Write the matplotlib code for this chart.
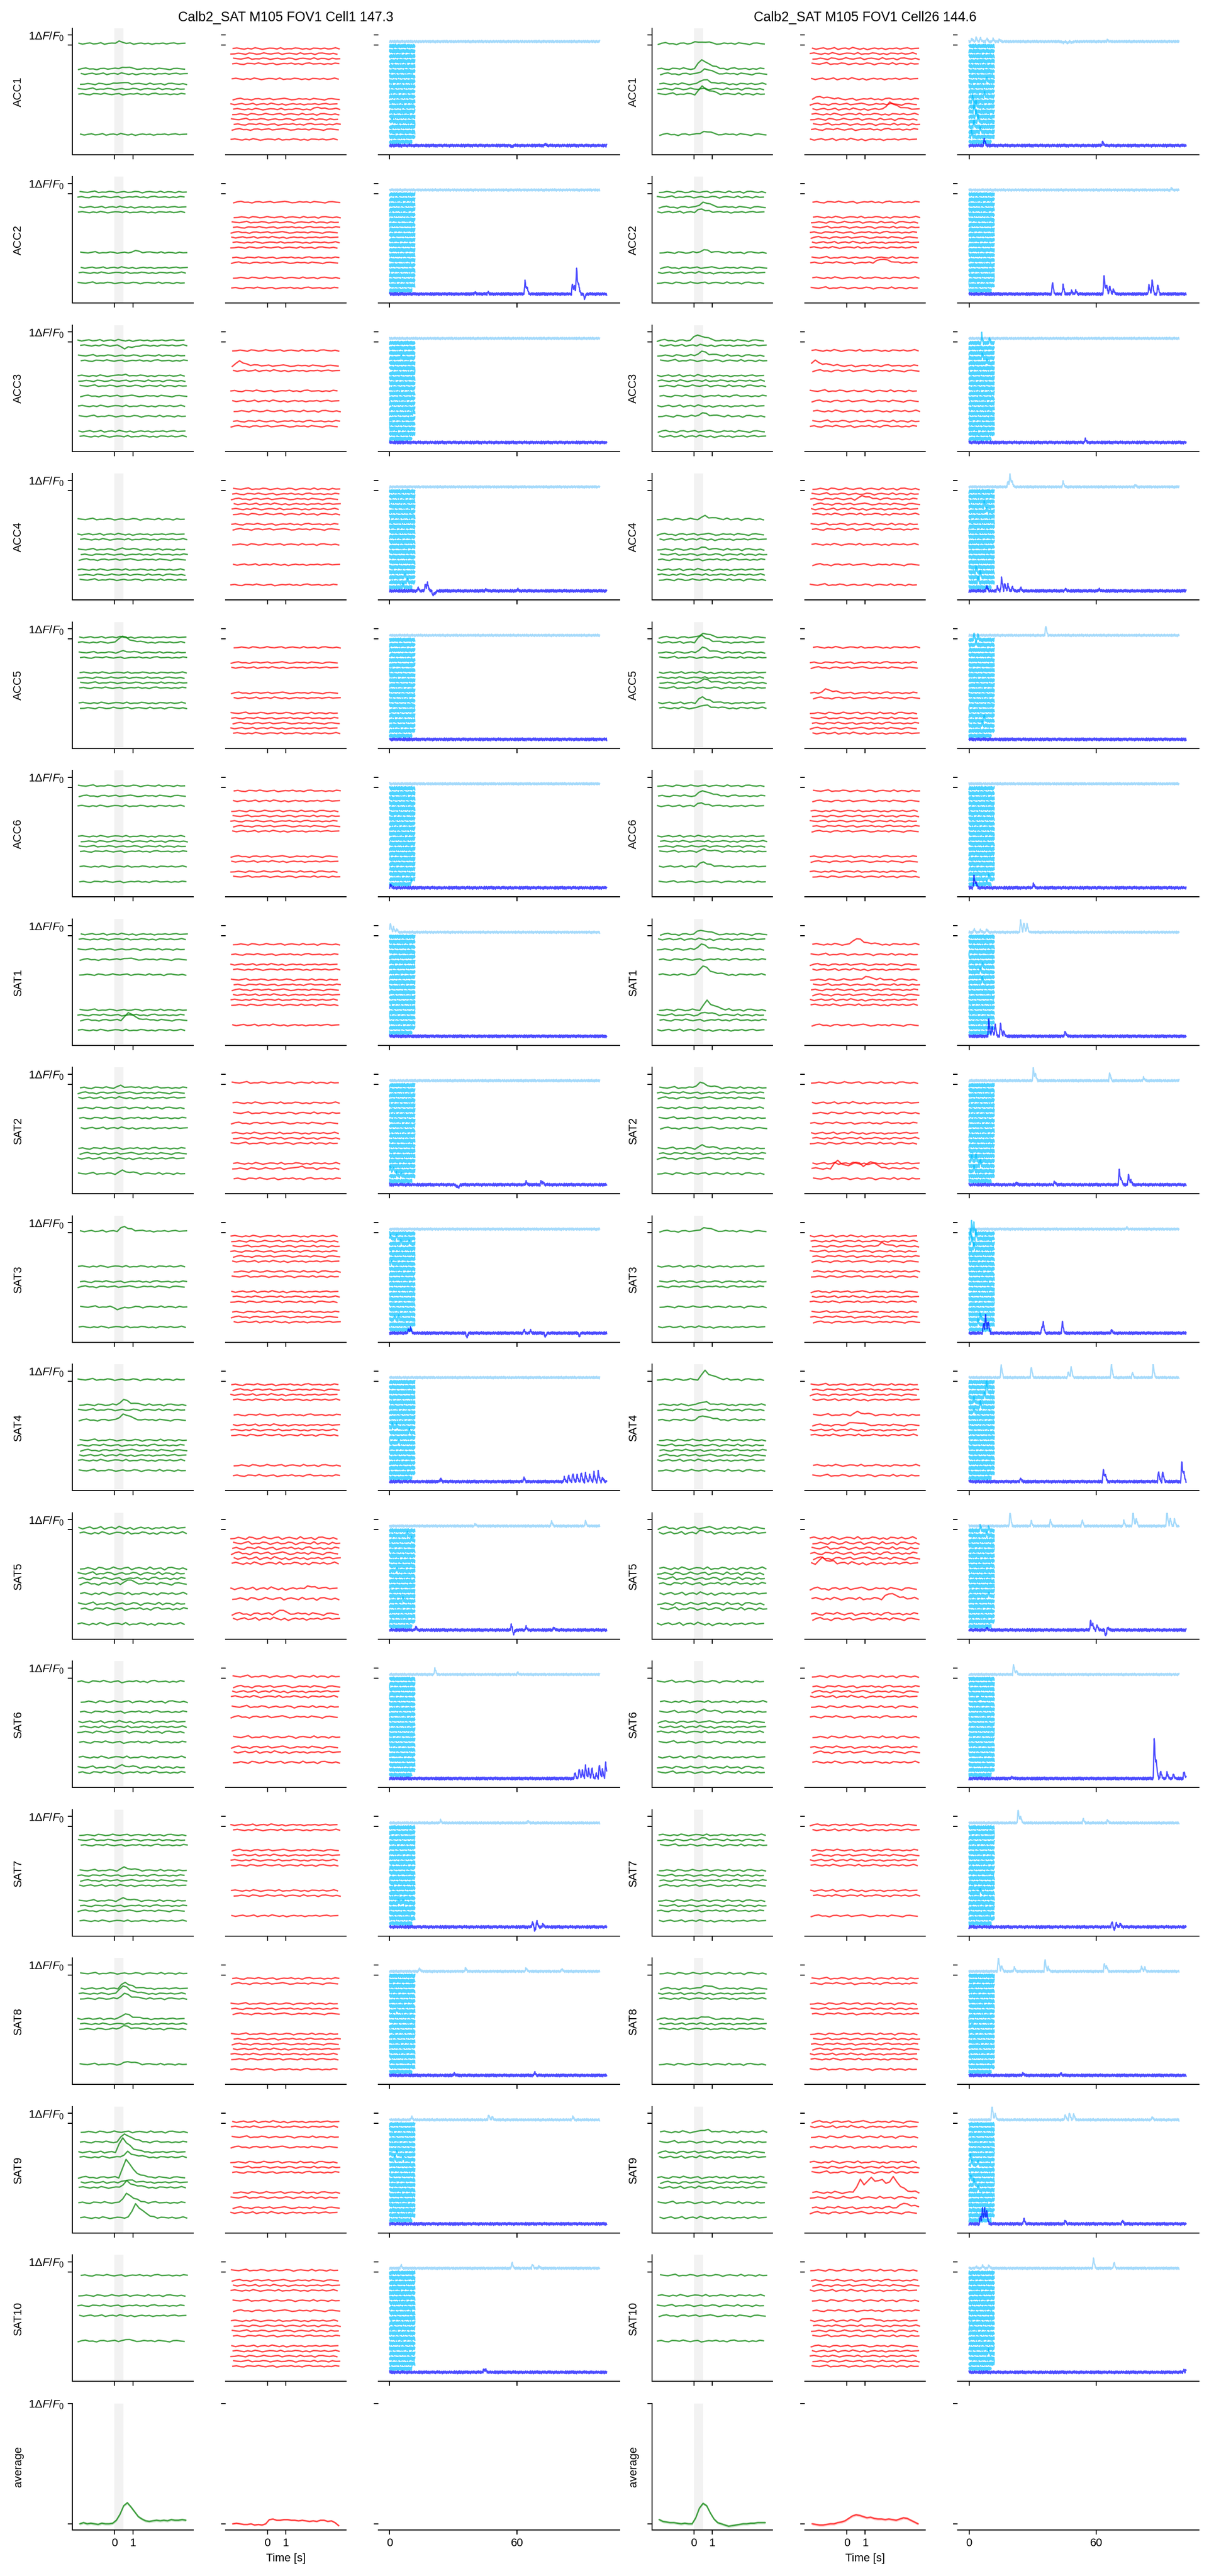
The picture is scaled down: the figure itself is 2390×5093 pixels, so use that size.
import numpy as np
import matplotlib.pyplot as plt

plt.rcParams['font.family'] = ['Liberation Sans', 'DejaVu Sans']
plt.rcParams['mathtext.fontset'] = 'custom'
plt.rcParams['mathtext.rm'] = 'Liberation Sans'
plt.rcParams['mathtext.it'] = 'Liberation Sans:italic'
plt.rcParams['font.size'] = 10

# ---------------- data ----------------
ROWS = ['ACC1', 'ACC2', 'ACC3', 'ACC4', 'ACC5', 'ACC6', 'SAT1', 'SAT2', 'SAT3',
        'SAT4', 'SAT5', 'SAT6', 'SAT7', 'SAT8', 'SAT9', 'SAT10', 'average']
TITLES = ['Calb2_SAT M105 FOV1 Cell1 147.3', 'Calb2_SAT M105 FOV1 Cell26 144.6']
N_TRIALS = 20

# trials drawn in green (all the others are red), same for both cells
GREEN_TRIALS = [
    [0, 5, 6, 8, 9, 10, 18],
    [0, 1, 3, 4, 12, 15, 16, 18],
    [0, 1, 3, 4, 7, 8, 9, 11, 13, 15, 18, 19],
    [6, 9, 10, 12, 13, 14, 16, 17, 18],
    [0, 1, 3, 4, 7, 8, 9, 10, 13, 14],
    [0, 2, 4, 10, 11, 12, 13, 16, 19],
    [0, 1, 3, 5, 8, 15, 16, 17, 19],
    [1, 2, 3, 5, 7, 9, 13, 14, 15, 18],
    [0, 7, 10, 11, 15, 19],
    [0, 5, 6, 8, 12, 13, 14, 15, 16, 18],
    [0, 1, 8, 9, 10, 11, 13, 15, 16, 19],
    [1, 5, 7, 9, 10, 11, 13, 16, 18, 19],
    [2, 3, 4, 9, 10, 11, 12, 15, 16, 17, 19],
    [0, 3, 4, 5, 9, 10, 11, 18],
    [2, 4, 6, 7, 11, 12, 13, 16, 19],
    [1, 5, 7, 9, 14],
]

# trial time axis (s) and per-trial start jitter
TRIAL_T = np.round(np.arange(30) * 0.2 - 1.9, 2)
T_SHIFT = [-0.05, 0.02, -0.1, 0.05, 0.0, -0.07, 0.08, -0.03, 0.04, -0.09]

# wiggle texture of single-trial traces
WIG = [
    [0.02, -0.03, 0.01, 0.04, -0.02, 0.00, 0.05, -0.04, 0.01, 0.03, -0.02, 0.06, 0.01, -0.03, 0.02,
     -0.05, 0.00, 0.03, -0.01, 0.02, -0.04, 0.01, 0.00, 0.03, -0.02, 0.02, 0.04, -0.01, 0.01, 0.02],
    [-0.04, 0.02, 0.05, -0.01, 0.00, -0.05, 0.02, 0.03, -0.02, 0.01, 0.04, -0.03, 0.00, 0.02, 0.05,
     0.01, -0.04, -0.02, 0.03, 0.00, 0.02, -0.03, 0.04, 0.01, -0.01, -0.05, 0.02, 0.03, 0.00, -0.02],
    [0.00, 0.03, -0.02, -0.04, 0.03, 0.02, -0.01, 0.05, 0.00, -0.03, 0.01, 0.03, -0.05, -0.01, 0.02,
     0.00, 0.04, -0.02, 0.01, -0.04, 0.03, 0.05, -0.01, 0.00, 0.02, -0.03, 0.01, -0.02, 0.04, 0.01],
    [0.03, 0.00, -0.02, 0.02, 0.06, -0.03, 0.00, -0.01, 0.04, 0.02, -0.04, 0.00, 0.03, -0.02, -0.01,
     0.04, 0.02, -0.05, 0.01, 0.03, 0.00, -0.02, 0.05, -0.03, 0.02, 0.01, -0.04, 0.03, -0.01, 0.00],
    [-0.02, -0.01, 0.03, 0.00, -0.04, 0.04, 0.02, -0.03, -0.01, 0.05, 0.00, -0.02, 0.02, 0.04, -0.04,
     0.01, 0.03, 0.00, -0.03, 0.05, -0.02, 0.00, 0.02, -0.05, 0.03, 0.04, 0.00, -0.02, 0.02, -0.03],
    [0.01, 0.04, 0.00, -0.03, 0.02, -0.02, 0.05, 0.01, -0.04, 0.00, 0.03, 0.02, -0.02, 0.05, -0.03,
     0.00, -0.01, 0.04, 0.02, -0.03, 0.01, -0.04, 0.03, 0.02, -0.01, 0.03, -0.02, 0.00, 0.05, -0.01],
]
NOISE = [
    [1.8, 1.7, 1.8, 1.8, 1.7, 1.7, 1.8, 2.0, 1.9, 2.0, 2.9, 2.4, 1.8, 1.8, 2.0, 1.8],
    [2.1, 2.0, 2.1, 2.1, 2.0, 1.8, 2.1, 2.1, 2.0, 2.1, 3.0, 2.4, 2.0, 2.0, 2.4, 2.0],
]

# texture of the long session traces (unit amplitude)
NZ_A = [0.3, -0.8, 0.5, 1.0, -0.2, -0.9, 0.6, 0.1, -0.5, 0.9, -0.3, 0.4, -1.0, 0.2, 0.8, -0.6, 0.0, 0.7, -0.7, 0.3,
        0.9, -0.4, 0.1, -0.2, 1.0, -0.8, 0.5, -0.1, 0.6, -0.9, 0.7, 0.2, -0.4, 0.6, -1.0, 0.3, 0.0, 0.8, -0.3, 0.5,
        -0.6, 0.2, 0.9, -0.5, 0.4, -0.2, 0.8, -0.7, 0.1, 0.3, -0.9, 0.6, -0.1, 0.7, -0.4, 0.2, 1.0, -0.6, 0.0, 0.5,
        -0.3, 0.9, -0.8, 0.4, 0.1, -0.5, 0.7, -0.2, 0.3, -1.0, 0.6, 0.2, -0.7, 0.8, -0.1, 0.4, -0.6, 0.9, -0.3, 0.0,
        0.5, -0.9, 0.3, 0.7, -0.4, 0.1, -0.8, 0.6, 0.2, -0.2, 0.9, -0.5, 0.4, -0.7, 0.0, 0.8, -0.1, 0.3, -0.6, 0.5]
NZ_B = [-0.5, 0.4, 0.9, -0.3, 0.1, -0.8, 0.6, -0.1, 0.3, 0.8, -0.7, 0.0, 0.5, -0.4, 0.9, -0.9, 0.2, 0.6, -0.2, -0.6,
        0.7, 0.1, -0.5, 1.0, -0.3, 0.3, -0.8, 0.4, 0.0, 0.6, -1.0, 0.5, 0.2, -0.4, 0.8, -0.1, -0.7, 0.9, 0.1, -0.3,
        0.4, -0.6, 0.7, 0.0, -0.9, 0.5, 0.3, -0.2, 0.8, -0.5, 0.1, 0.6, -0.8, 0.2, 0.9, -0.4, 0.0, 0.5, -0.7, 0.3,
        1.0, -0.2, -0.6, 0.4, 0.7, -0.9, 0.2, 0.1, -0.4, 0.6, -0.1, 0.8, -0.5, 0.3, -0.8, 0.5, 0.9, -0.3, 0.0, -0.6,
        0.4, 0.7, -0.9, 0.1, 0.5, -0.2, 0.8, -0.6, 0.3, 0.0, -0.7, 0.6, 0.2, -0.4, 0.9, -0.1, -0.8, 0.4, 0.6, -0.3]

# event shapes (fraction of amplitude per sample)
RESP_K = [0.5, 1.0, 0.7, 0.45, 0.28, 0.16, 0.08, 0.03]
CY_K = [0.3, 0.7, 1.0, 0.85, 0.6, 0.45, 0.3, 0.18, 0.08]

# single-trial responses: (trial, amplitude, time s)
RESP_G = [
    [[(0, 0.15, 0.2), (5, 0.15, 0.3), (8, 0.15, 0.2)],
     [(12, 0.15, 0.8)],
     [(1, -0.3, 0.3), (7, 0.1, 0.3)],
     [(12, 0.1, 0.3)],
     [(1, 0.65, 0.3), (3, 0.15, 0.3)],
     [],
     [(17, 0.7, 0.6), (5, 0.1, 0.4)],
     [(1, 0.2, 0.2), (18, 0.3, 0.4)],
     [(0, 0.45, 0.3), (15, -0.2, 0.0)],
     [(5, 0.5, 0.3), (8, 0.6, 0.3)],
     [(11, 0.3, 0.6)],
     [(18, 0.2, 0.4)],
     [(9, 0.3, 0.3), (15, 0.25, 0.4)],
     [(3, 0.6, 0.3), (4, 0.8, 0.3), (5, 0.5, 0.4), (9, 0.55, 0.5), (11, 0.3, 0.4), (18, 0.3, 0.5)],
     [(4, 0.9, 0.3), (6, 1.4, 0.4), (7, 0.5, 0.5), (11, 1.75, 0.5), (12, 0.3, 0.5), (13, 0.6, 0.5),
      (16, 0.95, 0.6), (19, 1.4, 0.8)],
     [(14, 0.1, 0.5)]],
    [[(0, 0.2, 0.1), (5, 1.0, 0.3), (6, 0.5, 0.3), (8, 0.45, 0.4), (10, 0.75, 0.4), (18, 0.3, 0.3)],
     [(3, 0.5, 0.3), (4, 0.3, 0.3), (12, 0.25, 0.4)],
     [(0, 0.6, 0.1), (3, 0.4, 0.3), (15, 0.3, 0.3)],
     [(6, 0.3, 0.5), (12, 0.2, 0.4)],
     [(0, 0.4, 0.3), (1, 0.7, 0.3), (3, 0.5, 0.3), (9, 0.35, 0.3), (13, 0.6, 0.4), (14, 0.3, 0.3)],
     [(2, 0.6, 0.3), (4, 0.3, 0.4), (13, 0.2, 0.3), (16, 0.45, 0.3)],
     [(0, 0.45, 0.1), (3, 0.5, 0.3), (8, 0.9, 0.3), (15, 0.9, 0.6), (16, 0.3, 0.6)],
     [(1, 0.55, 0.2), (13, 0.3, 0.4)],
     [(0, 0.35, 0.3)],
     [(0, 0.85, 0.5), (5, 0.3, 0.3), (8, 0.5, 0.3)],
     [(1, 0.2, 0.3)],
     [(7, 0.2, 0.3)],
     [(3, 0.2, 0.4)],
     [(3, 0.3, 0.3), (9, 0.2, 0.3)],
     [(2, 0.2, 0.3)],
     []],
]
RESP_R = [
    [[(13, 0.15, 2.6)], [], [(5, 0.4, -1.7)], [], [(13, 0.2, 0.8)], [], [], [(17, 0.2, 1.5)], [], [],
     [(17, 0.3, 0.5), (12, 0.25, 2.0)], [], [], [], [], []],
    [[(13, 0.7, 2.2), (11, 0.3, -1.6)], [(14, 0.4, 1.6)], [(5, 0.5, -1.8)], [(2, 0.3, 0.7)],
     [(11, 0.35, -1.3)], [], [(2, 0.6, 0.4), (9, 0.3, 0.8)],
     [(17, 0.8, -0.6), (17, 0.6, 0.4), (17, 0.6, 1.2)], [(3, 0.3, 1.6)], [(7, 0.3, 0.4), (9, 0.3, 0.1)],
     [(7, 0.5, -1.5), (14, 0.6, 2.0), (19, 0.4, 2.8)], [], [], [],
     [(14, 1.2, 0.6), (14, 1.2, 1.2), (14, 1.0, 1.8), (14, 1.2, 2.4), (17, 0.5, 3.0)], [(10, 0.3, 1.0)]],
]

# session traces: events (time s, amplitude) in light blue (top) and blue (bottom)
LB_EV = [
    [[], [], [], [], [], [], [(0, 0.9), (1.5, 0.5), (3, 0.3)], [], [], [],
     [(76, 0.5), (92, 0.5), (40, 0.2)], [(21, 0.6), (60, 0.2)], [(23.7, 0.25), (64.9, 0.2)],
     [(13.6, 0.3), (35.5, 0.35), (64, 0.35), (80.8, 0.25)],
     [(10, 0.3), (46.4, 0.5), (48, 0.3), (86, 0.3)],
     [(5, 0.3), (57.3, 0.6), (67, 0.4), (70, 0.2)]],
    [[(1, 0.3), (3, 0.4), (5, 0.35), (8, 0.3), (11, 0.25), (14, 0.2), (44, -0.15), (46, -0.2), (48, -0.15), (65, 0.15)],
     [(95, 0.15)], [], [(18, 0.6), (19, 1.2), (20, 0.5), (44, 0.5), (78, 0.2)], [(35.8, 0.95)], [],
     [(2, 0.3), (5, 0.2), (8, 0.3), (24, 1.2), (25.5, 1.0), (27, 0.8)],
     [(30, 1.2), (31, 0.6), (66, 0.8), (82, 0.3)], [(74, 0.15)],
     [(14.8, 1.25), (29, 1.1), (46.5, 0.6), (47.9, 1.1), (66.8, 1.3), (76.6, 0.5), (86.5, 1.3)],
     [(19, 1.4), (29, 0.5), (38, 0.6), (53, 0.6), (72.7, 0.5), (77, 1.5), (78.5, 0.8), (93, 1.5), (94.5, 0.8), (96.6, 0.7)],
     [(20.7, 1.0), (22, 0.4)],
     [(22.9, 1.3), (24, 0.6), (53.5, 0.4), (65, 0.3)],
     [(13.5, 1.4), (15, 0.6), (21, 0.4), (35.5, 1.2), (37, 0.4), (63.5, 0.8), (64.5, 0.5), (81, 0.5), (82.5, 0.4)],
     [(10.5, 1.5), (12, 0.6), (45, 0.5), (47, 0.7), (49, 0.6), (86, 0.3)],
     [(3, 0.2), (6, 0.3), (9, 0.3), (58.3, 1.0), (68, 0.6)]],
]
B_EV = [
    [[(57, -0.15), (73, 0.15)],
     [(40, 0.15), (46, 0.2), (63.5, 1.3), (64.5, 0.6), (85.9, 1.0), (86.8, 0.8), (87.8, 2.5), (88.8, 0.8), (91.6, -0.5)],
     [],
     [(13, 0.3), (16.5, 0.7), (17.5, 0.8), (20, -0.5), (21, -0.3), (45, 0.15), (60, 0.15)],
     [], [(0, 0.3)], [],
     [(32, -0.35), (31, -0.2), (64, 0.3), (71, 0.3), (72, 0.2)],
     [(8.5, 0.4), (9.5, 0.5), (36, -0.45), (63, 0.3), (66, 0.3), (73, -0.4), (89, -0.3)],
     [(23.7, 0.3), (63, 0.4), (82, 0.4), (84, 0.6), (86, 0.8), (88, 0.7), (90, 0.9), (92, 0.8), (94, 0.7),
      (96, 0.9), (98, 1.0), (100, 0.4)],
     [(12, 0.3), (57, 0.5), (58, -0.5), (64, 0.3), (77, 0.25)],
     [(87, 0.6), (89, 1.0), (90.5, 0.8), (92, 1.3), (93.5, 0.9), (95, 1.1), (97, 0.5), (98.5, 1.4), (100, 0.9), (101.5, 1.6)],
     [(67, 0.5), (68, -0.4), (69, 0.6), (72, 0.3)],
     [(30, 0.2), (68, 0.3)], [], [(44, 0.3), (45, 0.2)]],
    [[(6.9, 0.65), (62.6, 0.4)],
     [(39, 1.15), (44, 0.9), (48, 0.3), (50, 0.3), (63.4, 1.8), (64.5, 0.9), (66, 0.8), (67.6, 0.5),
      (84.5, 0.9), (86, 1.4), (88.7, 0.9)],
     [(54.5, 0.3)],
     [(8, 0.5), (13, 0.4), (15, 1.3), (16.5, 0.8), (18, 0.6), (20, 0.4), (24, 0.3), (45, 0.2), (61, 0.2)],
     [], [(2, 1.15), (3, 0.5), (30, 0.4)],
     [(9, 1.6), (10.5, 0.9), (12, 1.2), (14.5, 1.3), (16, 0.5), (45, 0.5)],
     [(22, 0.2), (40, 0.3), (70.5, 1.45), (71.5, 0.5), (74.8, 1.0), (76, 0.4)],
     [(6.5, 1.0), (7.5, 1.7), (8.6, 1.2), (34, 0.6), (34.7, 0.9), (43.7, 1.15), (66.8, 0.3)],
     [(24, 0.3), (63, 1.2), (64, 0.6), (89, 1.0), (91, 1.0), (100, 2.0), (101, 0.8)],
     [(8, 0.2), (57, 1.0), (58, 0.5), (60, 0.5), (64, -0.6), (65, 0.3)],
     [(20, 0.15), (87, 4.1), (88, 1.5), (90, 0.7), (93, 0.6), (96, 0.4), (101, 0.7)],
     [(67, 0.5), (68, -0.3), (69, 0.4), (71, 0.3)],
     [(25, 0.2), (43, 0.2)],
     [(5, 0.8), (6, 1.4), (7, 1.4), (8, 1.2), (25.5, 0.5), (45, 0.3), (72, 0.3)],
     [(101, 0.2), (102, 0.3)]],
]
# per-trial snippets (cyan): (trial, time s, amplitude)
CY_EV = [
    [[(15, 1, 0.25)], [], [(3, 5, 0.2), (14, 11, 0.25)], [(17, 7, 0.3), (18, 8, 0.35), (19, 6, 0.3)], [],
     [(19, 10, 0.4)], [], [(17, 0, 0.4), (17, 1.5, 0.3), (18, 3, 0.3), (18, 5, 0.3)],
     [(1, 0, 0.3), (1, 3, 0.3), (2, 5, 0.4), (2, 9, 0.3), (6, 0.5, 0.25), (17, 2, 0.3), (17, 4, 0.35)],
     [(9, 1, 0.35), (9, 3, 0.3), (10, 9, 0.3), (12, 4, 0.25)],
     [(1, 8, 0.3), (2, 10, 0.3), (8, 3, 0.3), (14, 6, 0.3)], [], [(15, 4, 0.3), (15, 6, 0.3)], [(7, 3, 0.2)],
     [(6, 0, 0.15), (6, 3, 0.3), (7, 2, 0.3), (7, 6, 0.25)], []],
    [[(12, 3, 0.6), (13, 2, 0.9), (14, 3, 0.7), (15, 4, 0.8), (16, 2, 0.6), (17, 5, 0.5), (18, 1, 0.5),
      (11, 1.5, 0.5), (10, 7, 0.4), (7, 8, 0.3)],
     [], [(0, 5.7, 0.9), (0, 9.4, 0.5), (3, 6, 0.4), (4, 8, 0.3)],
     [(3, 7, 0.4), (4, 8, 0.4), (16, 3, 0.5), (17, 5, 0.6), (18, 4, 0.5)],
     [(0, 2, 0.7), (0, 4, 0.5), (1, 3, 0.4), (16, 7, 0.5), (17, 6, 0.3)],
     [(18, 9, 0.4), (19, 8, 0.3)], [(6, 6, 0.3), (7, 5, 0.4), (9, 6, 0.4)],
     [(15, 1, 0.6), (15, 3, 0.5), (16, 5, 0.6), (17, 2, 0.5)],
     [(0, 1, 1.3), (0, 2, 1.0), (1, 0.5, 1.0), (1, 3, 0.8), (2, 1, 0.7), (3, 2, 0.6), (17, 5, 0.5), (18, 4, 0.4)],
     [(1, 8, 0.6), (2, 8, 0.8), (3, 7, 0.5), (4, 2, 0.5), (5, 5, 0.6), (6, 2, 0.3)],
     [(0, 5, 0.5), (0, 9, 0.4), (1, 8, 0.3), (13, 9, 0.4)], [(4, 5, 0.2)], [(13, 5, 0.4)], [(10, 1, 0.2)],
     [(7, 0.5, 0.4), (8, 1, 0.5), (8, 4, 0.4), (11, 0.5, 0.5), (12, 2, 0.5), (13, 4, 0.3)], [(16, 9, 0.3)]],
]

# trial-averaged traces (bottom row), sampled on TRIAL_T
AVG_G = [
    [0.0, 0.01, 0.0, 0.005, 0.0, -0.005, 0.005, 0.0, 0.0, 0.005, 0.03, 0.08, 0.15, 0.175, 0.14, 0.1, 0.06,
     0.04, 0.025, 0.02, 0.025, 0.03, 0.025, 0.03, 0.025, 0.035, 0.03, 0.03, 0.035, 0.03],
    [0.035, 0.02, 0.015, 0.01, 0.01, 0.005, 0.0, 0.005, 0.0, 0.0, 0.05, 0.13, 0.17, 0.15, 0.09, 0.04, 0.01,
     0.0, -0.01, -0.02, -0.015, -0.01, -0.005, 0.0, 0.0, 0.005, 0.005, 0.01, 0.01, 0.01],
]
AVG_R = [
    [0.0, 0.005, 0.0, -0.005, -0.005, 0.0, -0.01, -0.005, -0.01, 0.0, 0.035, 0.04, 0.03, 0.03, 0.035, 0.035,
     0.03, 0.03, 0.025, 0.03, 0.025, 0.02, 0.025, 0.02, 0.03, 0.03, 0.02, 0.025, 0.01, -0.015],
    [0.0, -0.005, -0.01, -0.01, -0.005, 0.0, 0.0, 0.01, 0.015, 0.025, 0.045, 0.065, 0.075, 0.07, 0.06, 0.05,
     0.055, 0.045, 0.04, 0.04, 0.035, 0.04, 0.035, 0.03, 0.04, 0.05, 0.045, 0.03, 0.015, 0.0],
]
AVG_SEM_G = [0.012, 0.012]
AVG_SEM_R = [0.008, 0.012]


def add_events(y, t0, dt, events, kern):
    for t, a in events:
        i = int(round((t - t0) / dt))
        for j, w in enumerate(kern):
            if 0 <= i + j < len(y):
                y[i + j] += a * w
    return y


def texture(src, n, shift):
    return np.roll(np.resize(np.array(src, float), n), shift)


def style(ax, kind, r, c):
    ax.spines['top'].set_visible(False)
    ax.spines['right'].set_visible(False)
    for s in ax.spines.values():
        s.set_linewidth(0.9)
    if kind != 'g':
        ax.spines['left'].set_visible(False)
    ax.tick_params(direction='out', length=4, width=0.9, labelsize=10)
    ax.set_yticks([0, 1])
    if kind == 'g' and c == 0:
        ax.set_yticklabels(['', r'1$\Delta F/F_0$'])
    else:
        ax.set_yticklabels(['', ''])
    if kind == 'b':
        ax.set_xlim(-5.3, 108.4)
        ax.set_xticks([0, 60])
    else:
        ax.set_xlim(-2.3, 4.3)
        ax.set_xticks([0, 1])
    if r < len(ROWS) - 1:
        ax.set_xticklabels([])
        ax.set_ylim(-10.85, 1.67)
    else:
        ax.set_ylim(-0.05, 1.0)


fig = plt.figure(figsize=(2390 / 160, 5093 / 160), dpi=160)
gs = fig.add_gridspec(len(ROWS), 6, width_ratios=[1, 1, 2, 1, 1, 2],
                      left=0.0600, right=0.9916, top=0.98904, bottom=0.01791,
                      wspace=0.2017, hspace=0.174)

t_lb = np.arange(595) * 0.1667
t_b = np.arange(615) * 0.1667
t_cy = np.arange(100) * 0.12

for c in range(2):
    for r, name in enumerate(ROWS):
        axg = fig.add_subplot(gs[r, 3 * c])
        axr = fig.add_subplot(gs[r, 3 * c + 1])
        axb = fig.add_subplot(gs[r, 3 * c + 2])
        axg.axvspan(0, 0.5, color='gray', alpha=0.1, lw=0, zorder=0)

        if r < len(ROWS) - 1:
            greens = GREEN_TRIALS[r]
            for k in range(N_TRIALS):
                pat = (k * 5 + r * 3 + c) % len(WIG)
                y = -0.5 * k + 0.15 + NOISE[c][r] * np.array(WIG[pat])
                if k in greens:
                    ev = [(t, a) for kk, a, t in RESP_G[c][r] if kk == k]
                    ax, col = axg, 'green'
                else:
                    ev = [(t, a) for kk, a, t in RESP_R[c][r] if kk == k]
                    ax, col = axr, 'red'
                y = add_events(y, -1.9, 0.2, ev, RESP_K)
                x = TRIAL_T + T_SHIFT[(k + r) % len(T_SHIFT)]
                ax.fill_between(x, y - 0.035, y + 0.035, color=col, alpha=0.12, lw=0)
                ax.plot(x, y, color=col, alpha=0.7, lw=1.2)

            # session traces
            lb = 0.35 + 0.13 * texture(NZ_B, len(t_lb), 7 * r + 31 * c)
            lb = add_events(lb, 0.0, 0.1667, LB_EV[c][r], CY_K)
            axb.plot(t_lb, lb, color='lightskyblue', alpha=0.75, lw=1.1)
            for k in range(N_TRIALS):
                n = 88 if k == N_TRIALS - 1 else 100
                cy = -0.5 * k - 0.1 + 0.19 * texture(NZ_A if k % 2 else NZ_B, 100, 11 * k + 5 * r + 3 * c)
                ev = [(t, a) for kk, t, a in CY_EV[c][r] if kk == k]
                cy = add_events(cy, 0.0, 0.12, ev, CY_K)
                axb.plot(t_cy[:n], cy[:n], color='deepskyblue', alpha=0.7, lw=1.1)
            b = -9.95 + 0.15 * texture(NZ_A, len(t_b), 13 * r + 47 * c)
            b = add_events(b, 0.0, 0.1667, B_EV[c][r], CY_K)
            axb.plot(t_b, b, color='blue', alpha=0.7, lw=1.1)
        else:
            g = np.array(AVG_G[c])
            rr = np.array(AVG_R[c])
            axg.fill_between(TRIAL_T, g - AVG_SEM_G[c], g + AVG_SEM_G[c], color='green', alpha=0.2, lw=0)
            axg.plot(TRIAL_T, g, color='green', alpha=0.7, lw=1.2)
            axr.fill_between(TRIAL_T, rr - AVG_SEM_R[c], rr + AVG_SEM_R[c], color='red', alpha=0.2, lw=0)
            axr.plot(TRIAL_T, rr, color='red', alpha=0.7, lw=1.2)
            axr.set_xlabel('Time [s]', fontsize=10)

        style(axg, 'g', r, c)
        style(axr, 'r', r, c)
        style(axb, 'b', r, c)
        axg.set_ylabel(name, fontsize=10)
        if r == 0:
            axr.set_title(TITLES[c], fontsize=12)

fig.savefig('out.png', dpi=160)
